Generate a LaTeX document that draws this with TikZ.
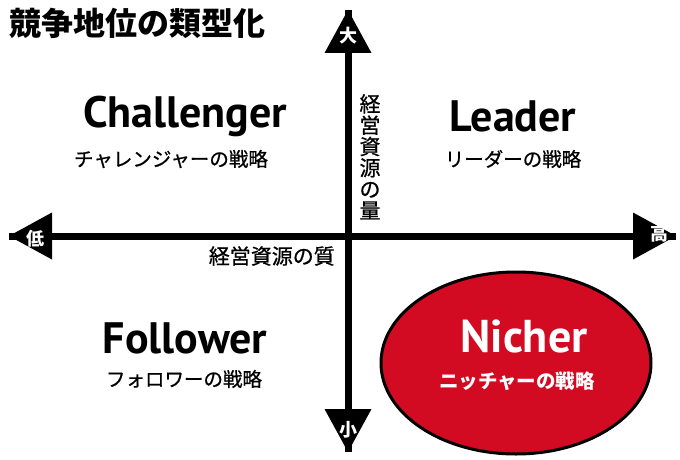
\documentclass[tikz,border=0pt]{standalone}
\usepackage{fontspec}
\setmainfont{PT Sans}
\newfontfamily\jp{Noto Sans CJK JP}
\newfontfamily\jpm[FakeBold=0.8]{Noto Sans CJK JP}
\usetikzlibrary{shapes.geometric}
\definecolor{nichred}{HTML}{D20A22}
\tikzset{
  axis/.style={line width=7pt},
  head/.style={fill=black},
  big/.style={font=\fontsize{44}{48}\selectfont\bfseries},
  sub/.style={font=\jpm\fontsize{19.5}{21}\selectfont},
  tip/.style={font=\jp\bfseries\fontsize{18}{19}\selectfont,text=white,inner sep=0pt},
  axlabel/.style={font=\jpm\fontsize{21}{22}\selectfont,inner sep=0pt},
}
\begin{document}
\begin{tikzpicture}[x=1pt,y=-1pt]
\useasboundingbox (0,0) rectangle (680,460);
\node[anchor=west,font=\jp\bfseries\fontsize{32}{33}\selectfont,inner sep=0pt] (title) at (9,23) {競争地位の類型化};
\node[draw=black,line width=3pt,fill=nichred,ellipse,minimum width=270pt,minimum height=182pt] (ell) at (516,363) {};
\coordinate (T) at (348,10);
\coordinate (B) at (348,452);
\coordinate (L) at (9,236);
\coordinate (R) at (676,236);
\draw[axis] (B) -- (T);
\draw[axis] (L) -- (R);
\fill[head] (T) -- ++(-23.5,43) -- ++(47,0) -- cycle;
\fill[head] (B) -- ++(-23.5,-43) -- ++(47,0) -- cycle;
\fill[head] (L) -- ++(43,-23.5) -- ++(0,47) -- cycle;
\fill[head] (R) -- ++(-43,-23.5) -- ++(0,47) -- cycle;
\node[tip] (big) at (348,36) {大};
\node[tip] (small) at (348,430) {小};
\node[tip] (low) at (35,239) {低};
\node[tip] (high) at (659,234) {高};
\node[axlabel,anchor=east] (qual) at (335,256) {経営資源の質};
\node[axlabel,align=center,anchor=north,font=\jpm\fontsize{21}{21.3}\selectfont] (qty) at (370,94) {経\\営\\資\\源\\の\\量};
\node[big] (ch) at (185,116) {Challenger};
\node[sub] (chs) at (171,159) {チャレンジャーの戦略};
\node[big] (ld) at (513,116) {Leader};
\node[sub] (lds) at (513,159) {リーダーの戦略};
\node[big] (fl) at (185,338) {Follower};
\node[sub] (fls) at (184,379) {フォロワーの戦略};
\node[big,text=white,font=\fontsize{46}{50}\selectfont\bfseries] (ni) at (524,336) {Nicher};
\node[sub,text=white,font=\jp\bfseries\fontsize{19.5}{21}\selectfont] (nis) at (517,381) {ニッチャーの戦略};
\end{tikzpicture}
\end{document}
